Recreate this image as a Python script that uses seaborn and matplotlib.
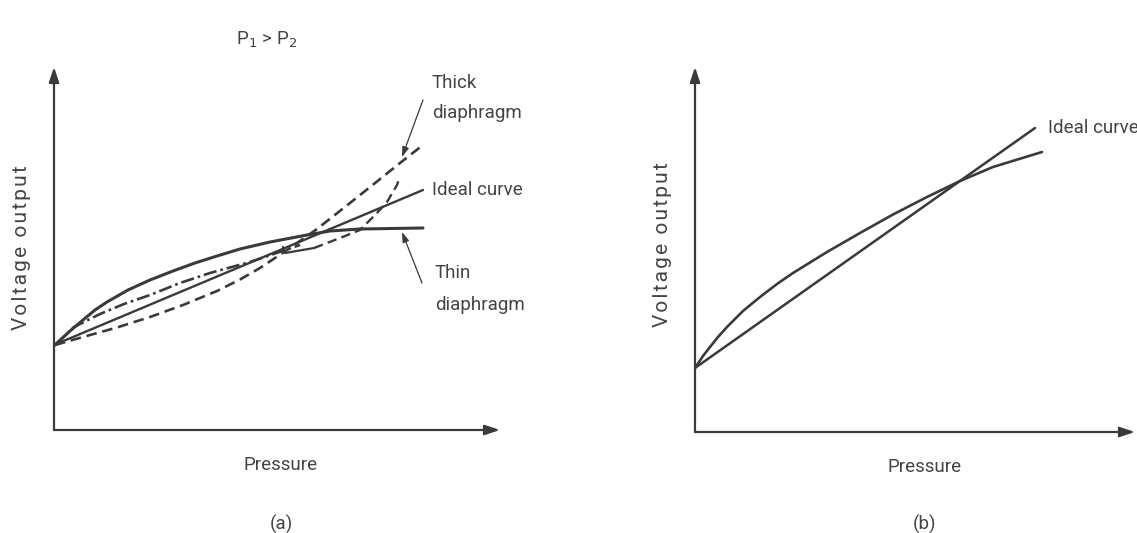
import matplotlib
matplotlib.use("Agg")
import matplotlib.pyplot as plt
import seaborn as sns

sns.set_style("white")
plt.rcParams["font.family"] = ["Roboto", "DejaVu Sans"]

INK = "#3a3a3a"
TXT = "#444444"

# -----------------------------
# Panel (a) curves (pressure, voltage) in arbitrary units
# -----------------------------
ideal_a_p = [0.0, 36.9]
ideal_a_v = [8.5, 24.0]

thin_p = [0.1, 1.6, 2.9, 4.1, 5.3, 7.4, 9.6, 11.9, 14.1, 16.3, 18.6, 21.6,
          25.3, 27.6, 30.6, 36.9]
thin_v = [8.5, 9.9, 11.0, 12.0, 12.8, 14.0, 15.0, 15.9, 16.7, 17.4, 18.1, 18.8,
          19.5, 19.9, 20.1, 20.2]

dashdot_p = [0.1, 2.0, 4.6, 7.0, 9.6, 12.6, 15.6, 19.6, 24.6]
dashdot_v = [8.5, 10.3, 11.6, 12.6, 13.5, 14.7, 15.7, 16.8, 18.5]

thick_p = [0.1, 2.9, 6.3, 9.6, 12.9, 16.3, 18.6, 20.6, 23.6, 26.3, 29.6, 32.3,
           34.6, 36.9]
thick_v = [8.5, 9.3, 10.25, 11.3, 12.5, 13.9, 15.05, 16.2, 18.2, 20.1, 22.7,
           24.85, 26.7, 28.5]

loop_solid_p = [22.9, 23.1, 26.0]
loop_solid_v = [18.3, 17.7, 18.2]
loop_dash_p = [26.0, 28.6, 30.6, 32.3, 33.3, 34.3, 34.5]
loop_dash_v = [18.2, 19.2, 20.0, 21.7, 22.8, 24.5, 25.1]

# -----------------------------
# Panel (b) curves
# -----------------------------
ideal_b_p = [0.0, 34.0]
ideal_b_v = [6.4, 30.4]

real_b_p = [0.0, 0.8, 1.5, 2.3, 3.2, 4.8, 6.5, 8.2, 9.8, 13.2, 16.5, 19.8, 23.2,
            26.5, 29.8, 34.7]
real_b_v = [6.4, 7.6, 8.5, 9.5, 10.5, 12.1, 13.5, 14.8, 15.9, 18.0, 19.9, 21.75,
            23.5, 25.1, 26.5, 28.0]

W, H = 1137, 533
fig = plt.figure(figsize=(W / 100, H / 100), dpi=100)

# axes boxes in pixels
ax_a = fig.add_axes([54 / W, (H - 430) / H, (500 - 54) / W, (430 - 67) / H])
ax_b = fig.add_axes([695 / W, (H - 432) / H, (1135 - 695) / W, (432 - 67) / H])

ax_a.set_xlim(0, 44.6)
ax_a.set_ylim(0, 36.3)
ax_b.set_xlim(0, 44.0)
ax_b.set_ylim(0, 36.5)


def curve(ax, p, v, ls="-", lw=1.9):
    sns.lineplot(x=p, y=v, ax=ax, color=INK, linewidth=lw, linestyle=ls,
                 sort=False, estimator=None, legend=False)


def axis_arrows(ax):
    for s in ax.spines.values():
        s.set_visible(False)
    ax.set_xticks([])
    ax.set_yticks([])
    ax.set_xlabel("")
    ax.set_ylabel("")
    style = dict(arrowstyle="-|>,head_length=0.9,head_width=0.3", color=INK,
                 lw=1.6, shrinkA=0, shrinkB=0)
    ax.annotate("", xy=(1, 0), xytext=(0, 0), xycoords="axes fraction",
                arrowprops=style, annotation_clip=False)
    ax.annotate("", xy=(0, 1), xytext=(0, 0), xycoords="axes fraction",
                arrowprops=style, annotation_clip=False)
    ax.patch.set_alpha(0)


# the y label in the scan is slightly letter-spaced
ylab = "\u200a".join("Voltage output")
YFS = 15

# panel (a)
curve(ax_a, ideal_a_p, ideal_a_v, lw=1.7)
curve(ax_a, thin_p, thin_v, lw=2.2)
curve(ax_a, dashdot_p, dashdot_v, ls=(0, (5, 1.5, 1, 1.5)), lw=1.9)
curve(ax_a, thick_p, thick_v, ls=(0, (4, 2.2)), lw=1.9)
curve(ax_a, loop_solid_p, loop_solid_v, lw=1.6)
curve(ax_a, loop_dash_p, loop_dash_v, ls=(0, (4, 2.2)), lw=1.7)
axis_arrows(ax_a)

FS = 13.5
txt = dict(fontsize=FS, color=TXT, va="center", ha="left")
ax_a.text(37.8, 34.7, "Thick", **txt)
ax_a.text(37.8, 31.7, "diaphragm", **txt)
ax_a.text(37.8, 24.0, "Ideal curve", **txt)
ax_a.text(38.1, 15.7, "Thin", **txt)
ax_a.text(38.1, 12.5, "diaphragm", **txt)

arr = dict(arrowstyle="-|>,head_length=0.6,head_width=0.2", color=INK, lw=0.9,
           shrinkA=0, shrinkB=0)
ax_a.annotate("", xy=(34.8, 27.3), xytext=(36.9, 33.0), arrowprops=arr)
ax_a.annotate("", xy=(34.8, 19.8), xytext=(36.8, 14.7), arrowprops=arr)

ax_a.text(21.3, 39.0, "P$_1$ > P$_2$", fontsize=FS, color=TXT, ha="center",
          va="center", clip_on=False)
ax_a.text(-3.25, 18.2, ylab, fontsize=YFS, color=TXT, rotation=90,
          ha="center", va="center")
ax_a.text(22.7, -3.5, "Pressure", fontsize=FS, color=TXT, ha="center", va="center")
ax_a.text(22.7, -9.4, "(a)", fontsize=FS, color=TXT, ha="center", va="center")

# panel (b)
curve(ax_b, ideal_b_p, ideal_b_v, lw=1.8)
curve(ax_b, real_b_p, real_b_v, lw=1.9)
axis_arrows(ax_b)

ax_b.text(35.3, 30.4, "Ideal curve", **txt)
ax_b.text(-3.2, 18.7, ylab, fontsize=YFS, color=TXT, rotation=90,
          ha="center", va="center")
ax_b.text(23.0, -3.5, "Pressure", fontsize=FS, color=TXT, ha="center", va="center")
ax_b.text(23.0, -9.2, "(b)", fontsize=FS, color=TXT, ha="center", va="center")

fig.savefig("out.png", dpi=100)
